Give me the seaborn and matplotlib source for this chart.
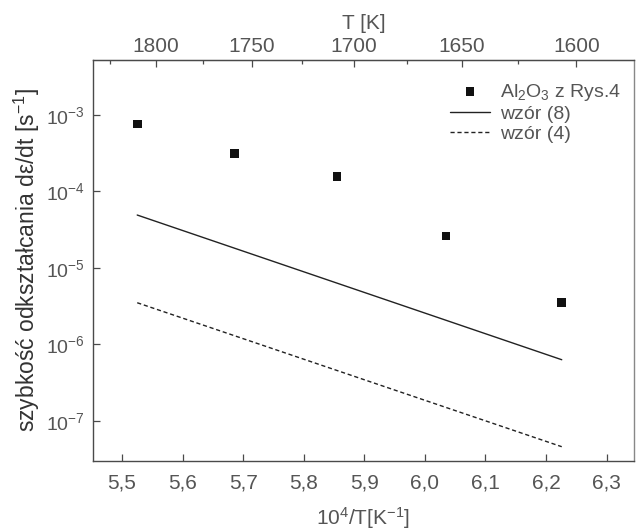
import numpy as np
import pandas as pd
import seaborn as sns
import matplotlib
matplotlib.use("Agg")
import matplotlib.pyplot as plt
from matplotlib.ticker import FixedLocator, FuncFormatter, NullLocator

# measured points (Al2O3, Rys. 4)
x_points = [5.525, 5.685, 5.855, 6.035, 6.226]
y_points = [7.6e-4, 3.1e-4, 1.55e-4, 2.6e-5, 3.5e-6]

# model lines
x_line = [5.525, 6.226]
y_wzor8 = [4.9e-5, 6.3e-7]
y_wzor4 = [3.5e-6, 4.6e-8]

x_ticks = [5.5, 5.6, 5.7, 5.8, 5.9, 6.0, 6.1, 6.2, 6.3]
t_major = [1800, 1750, 1700, 1650, 1600]
t_minor = [1825, 1775, 1725, 1675, 1625]
y_ticks = [1e-7, 1e-6, 1e-5, 1e-4, 1e-3]

sns.set_style("ticks")
plt.rcParams['font.family'] = ['Liberation Sans', 'DejaVu Sans']
plt.rcParams['mathtext.fontset'] = 'custom'
plt.rcParams['mathtext.rm'] = 'Liberation Sans'
plt.rcParams['mathtext.it'] = 'Liberation Sans:italic'

grey = '#4a4a4a'
text_grey = '#555555'

fig = plt.figure(figsize=(6.37, 5.31), dpi=100)
ax = fig.add_axes([0.146, 0.132, 0.849, 0.755])

pts = pd.DataFrame({'x': x_points, 'y': y_points})
sns.scatterplot(data=pts, x='x', y='y', marker='s', s=40, color='#111111',
                edgecolor='none', ax=ax, label='Al$_2$O$_3$ z Rys.4')
sns.lineplot(x=x_line, y=y_wzor8, color='#222222', lw=1.0, ax=ax, label='wzór (8)')
sns.lineplot(x=x_line, y=y_wzor4, color='#222222', lw=1.0, ls=(0, (3, 2)), ax=ax,
             label='wzór (4)')

ax.set_yscale('log')
ax.set_xlim(5.452, 6.345)
ax.set_ylim(3.0e-8, 5.2e-3)

ax.xaxis.set_major_locator(FixedLocator(x_ticks))
ax.xaxis.set_major_formatter(FuncFormatter(lambda v, p: f"{v:.1f}".replace('.', ',')))
ax.yaxis.set_major_locator(FixedLocator(y_ticks))
ax.yaxis.set_minor_locator(NullLocator())
ax.yaxis.set_major_formatter(FuncFormatter(lambda v, p: f"$10^{{{int(round(np.log10(v)))}}}$"))

ax.tick_params(axis='both', direction='in', length=5, width=0.9, color=grey,
               labelcolor=text_grey)
ax.tick_params(axis='x', labelsize=15, pad=9)
ax.tick_params(axis='y', labelsize=14, pad=6)
for sp in ax.spines.values():
    sp.set_color(grey)
    sp.set_linewidth(1.0)
ax.spines['right'].set_color('#888888')

ax.set_xlabel('10$^4$/T[K$^{-1}$]', fontsize=15, color=text_grey, labelpad=9)
ax.set_ylabel('szybkość odkształcania dε/dt [s$^{-1}$]', fontsize=16.5,
              color='#333333', labelpad=3)

top = ax.secondary_xaxis('top', functions=(lambda x: 1e4 / x, lambda t: 1e4 / t))
top.xaxis.set_major_locator(FixedLocator(t_major))
top.xaxis.set_minor_locator(FixedLocator(t_minor))
top.xaxis.set_major_formatter(FuncFormatter(lambda v, p: f"{v:.0f}"))
top.tick_params(axis='x', which='major', direction='in', length=5, width=0.9,
                color=grey, labelsize=15, labelcolor=text_grey, pad=3)
top.tick_params(axis='x', which='minor', direction='in', length=3, width=0.9, color=grey)
top.spines['top'].set_color(grey)
top.set_xlabel('T [K]', fontsize=15, color=text_grey, labelpad=6)

leg = ax.legend(loc='upper right', frameon=False, fontsize=14, handlelength=2.05,
                handletextpad=0.5, labelspacing=0.12, borderaxespad=0.0,
                bbox_to_anchor=(0.99, 0.965))
for t in leg.get_texts():
    t.set_color(text_grey)

fig.savefig('out.png', dpi=100)
